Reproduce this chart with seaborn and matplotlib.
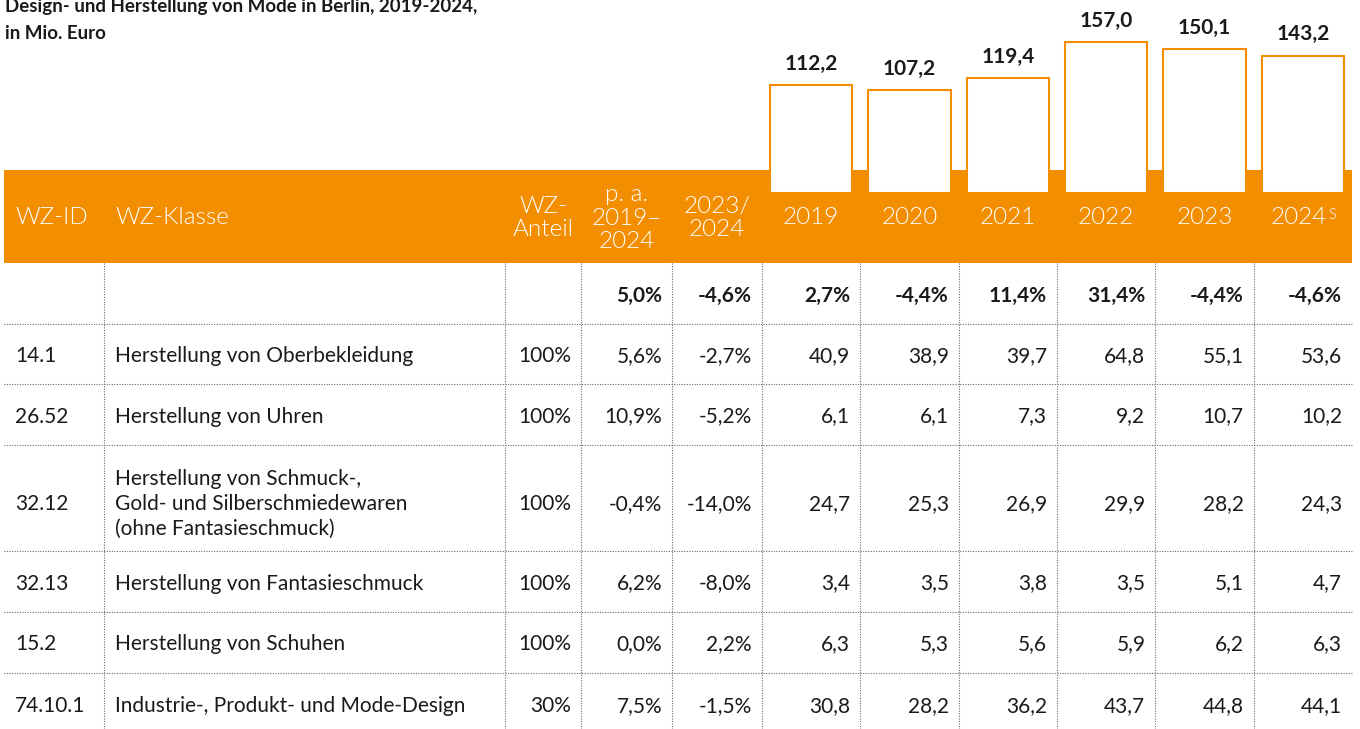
import numpy as np
import pandas as pd
import matplotlib
matplotlib.use('Agg')
import matplotlib.pyplot as plt
import seaborn as sns

# --- data -----------------------------------------------------------------
title = 'Design- und Herstellung von Mode in Berlin, 2019-2024,\nin Mio. Euro'
years = ['2019', '2020', '2021', '2022', '2023', '2024']
totals = [112.2, 107.2, 119.4, 157.0, 150.1, 143.2]
total_growth = [2.7, -4.4, 11.4, 31.4, -4.4, -4.6]
total_pa = 5.0
total_2324 = -4.6

wz_ids = ['14.1', '26.52', '32.12', '32.13', '15.2', '74.10.1']
wz_klassen = ['Herstellung von Oberbekleidung',
              'Herstellung von Uhren',
              'Herstellung von Schmuck-,\nGold- und Silberschmiedewaren\n(ohne Fantasieschmuck)',
              'Herstellung von Fantasieschmuck',
              'Herstellung von Schuhen',
              'Industrie-, Produkt- und Mode-Design']
wz_anteil = [100, 100, 100, 100, 100, 30]
growth_pa = [5.6, 10.9, -0.4, 6.2, 0.0, 7.5]
growth_2324 = [-2.7, -5.2, -14.0, -8.0, 2.2, -1.5]
v2019 = [40.9, 6.1, 24.7, 3.4, 6.3, 30.8]
v2020 = [38.9, 6.1, 25.3, 3.5, 5.3, 28.2]
v2021 = [39.7, 7.3, 26.9, 3.8, 5.6, 36.2]
v2022 = [64.8, 9.2, 29.9, 3.5, 5.9, 43.7]
v2023 = [55.1, 10.7, 28.2, 5.1, 6.2, 44.8]
v2024 = [53.6, 10.2, 24.3, 4.7, 6.3, 44.1]

header_left = ['WZ-ID', 'WZ-Klasse']
header_mid = ['WZ-\nAnteil', 'p. a.\n2019–\n2024', '2023/\n2024']

ORANGE = '#F28E00'
INK = '#1a1a1a'
HW = 300  # light weight for header


def de(v, dec=1, pct=False):
    s = f'{v:.{dec}f}'.replace('.', ',')
    return s + '%' if pct else s


# --- layout (pixels) -----------------------------------------------------
W, H = 1360, 729
col_x = [4, 104, 505, 581, 672] + list(np.linspace(762, 1352, 7))
row_y = [263, 324, 384, 445, 551, 612, 673, 735]

sns.set_theme(style='white')
plt.rcParams['font.family'] = ['Lato', 'DejaVu Sans']

fig = plt.figure(figsize=(W / 100, H / 100), dpi=100)
ax = fig.add_axes([0, 0, 1, 1])
ax.set_xlim(0, W)
ax.set_ylim(H, 0)
ax.axis('off')

# title
t1, t2 = title.split('\n')
ax.text(5, 12, t1, fontsize=13.5, fontweight='bold', color=INK,
        va='baseline', ha='left')
ax.text(5, 39, t2, fontsize=13.5, fontweight='bold', color=INK,
        va='baseline', ha='left')

# orange header band
ax.add_patch(plt.Rectangle((col_x[0], 170), col_x[-1] - col_x[0], 93,
                           color=ORANGE, lw=0, zorder=0))

# header texts
hy = 217
hfs = 17.5
ax.text(15, hy, header_left[0], color='white', fontsize=hfs,
        fontweight=HW, va='center', ha='left')
ax.text(115, hy, header_left[1], color='white', fontsize=hfs,
        fontweight=HW, va='center', ha='left')
for i, lab in enumerate(header_mid):
    cx = (col_x[2 + i] + col_x[3 + i]) / 2
    ax.text(cx, hy + 1, lab, color='white', fontsize=hfs, fontweight=HW,
            va='center', ha='center', linespacing=1.12)
for i, yr in enumerate(years):
    cx = (col_x[5 + i] + col_x[6 + i]) / 2
    if i == len(years) - 1:
        t = ax.text(cx - 4, hy, yr, color='white', fontsize=hfs,
                    fontweight=HW, va='center', ha='center')
        ax.annotate('S', xy=(1.0, 0.95), xycoords=t, va='top', ha='left',
                    color='white', fontsize=10.5, fontweight=HW,
                    xytext=(1, 0), textcoords='offset points')
    else:
        ax.text(cx, hy, yr, color='white', fontsize=hfs,
                fontweight=HW, va='center', ha='center')

# grid lines
dot = dict(color='#6a6a6a', lw=0.8, linestyles=(0, (1, 1.3)))
ax.hlines(row_y[1:-1], col_x[0], col_x[-1], **dot)
ax.vlines(col_x[1:-1], row_y[0], H, **dot)

# table body
pad = 10
fs = 15
growth_row = ['', '', '', de(total_pa, pct=True), de(total_2324, pct=True)] + \
    [de(v, pct=True) for v in total_growth]
body = []
for r in range(len(wz_ids)):
    body.append([wz_ids[r], wz_klassen[r], f'{wz_anteil[r]}%',
                 de(growth_pa[r], pct=True), de(growth_2324[r], pct=True),
                 de(v2019[r]), de(v2020[r]), de(v2021[r]),
                 de(v2022[r]), de(v2023[r]), de(v2024[r])])

rows = [growth_row] + body
for r, cells in enumerate(rows):
    cy = (row_y[r] + row_y[r + 1]) / 2 + 2
    if '\n' in cells[1]:
        cy += 4
    weight = 'bold' if r == 0 else 'normal'
    for c, txt in enumerate(cells):
        if not txt:
            continue
        if c == 0:
            ax.text(15, cy, txt, fontsize=fs, color=INK, va='center', ha='left',
                    fontweight=weight)
        elif c == 1:
            ax.text(115, cy, txt, fontsize=fs, color=INK, va='center',
                    ha='left', linespacing=1.3, fontweight=weight)
        else:
            ax.text(col_x[c + 1] - pad, cy, txt, fontsize=fs, color=INK,
                    va='center', ha='right', fontweight=weight)

# --- bar chart of totals on top of the year columns ----------------------
base = 193
bx = fig.add_axes([col_x[5] / W, (H - base) / H, (col_x[-1] - col_x[5]) / W, base / H])
df = pd.DataFrame({'Jahr': years, 'Umsatz': totals})
sns.barplot(data=df, x='Jahr', y='Umsatz', color='white', edgecolor=ORANGE,
            linewidth=1.5, width=0.834, saturation=1, ax=bx)
bx.set_xlim(-0.5, len(years) - 0.5)
bx.set_ylim(0, base / 0.96)
bx.axis('off')
bx.patch.set_alpha(0)
bx.bar_label(bx.containers[0], labels=[de(v) for v in totals], padding=8,
             fontsize=15, fontweight='bold', color=INK)

fig.savefig('out.png', dpi=100)
